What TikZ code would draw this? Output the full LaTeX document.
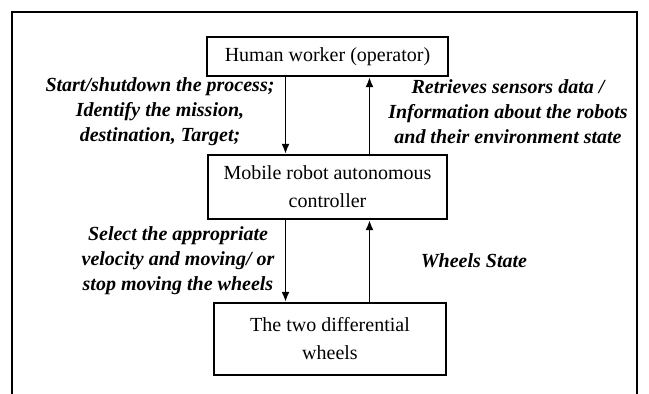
\documentclass[tikz,border=0pt]{standalone}
\usepackage{fontspec}
\setmainfont{Liberation Serif}
\usepackage{tikz}
\usetikzlibrary{arrows.meta, positioning}

\begin{document}
\begin{tikzpicture}[x=0.5pt, y=-0.5pt,
  block/.style={draw, line width=1.2pt, align=center, inner sep=2pt, font=\fontsize{10}{14}\selectfont},
  lbl/.style={align=center, inner sep=0pt, font=\fontsize{10}{12.5}\selectfont\bfseries\itshape},
  arr/.style={-{Latex[length=5pt, width=4pt]}, line width=0.8pt},
]
  \useasboundingbox (0,0) rectangle (649,394);

  % Frame (open at the bottom)
  \draw[line width=1pt] (12,394) -- (12,12) -- (637,12) -- (637,394);

  % Blocks
  \node[block, minimum width=120.5pt, minimum height=19.5pt] (human) at (327.5, 56.5) {Human worker (operator)};
  \node[block, minimum width=119.5pt, minimum height=32pt] (ctrl) at (327.5, 187) {Mobile robot autonomous\\controller};
  \node[block, minimum width=116pt, minimum height=36pt] (wheels) at (330, 339) {The two differential\\wheels};

  % Labels
  \node[lbl] (cmd) at (160, 112) {Start/shutdown the process;\\Identify the mission,\\destination, Target;};
  \node[lbl] (sens) at (508, 112) {Retrieves sensors data /\\Information about the robots\\and their environment state};
  \node[lbl] (vel) at (178, 261) {Select the appropriate\\velocity and moving/ or\\stop moving the wheels};
  \node[lbl] (wst) at (474, 261) {Wheels State};

  % Connectors
  \draw[arr] ([xshift=-21pt]human.south) -- ([xshift=-21pt]ctrl.north);
  \draw[arr] ([xshift=21pt]ctrl.north) -- ([xshift=21pt]human.south);
  \draw[arr] ([xshift=-21pt]ctrl.south) -- ([xshift=-21pt]ctrl.south |- wheels.north);
  \draw[arr] ([xshift=21pt]ctrl.south |- wheels.north) -- ([xshift=21pt]ctrl.south);
\end{tikzpicture}
\end{document}
